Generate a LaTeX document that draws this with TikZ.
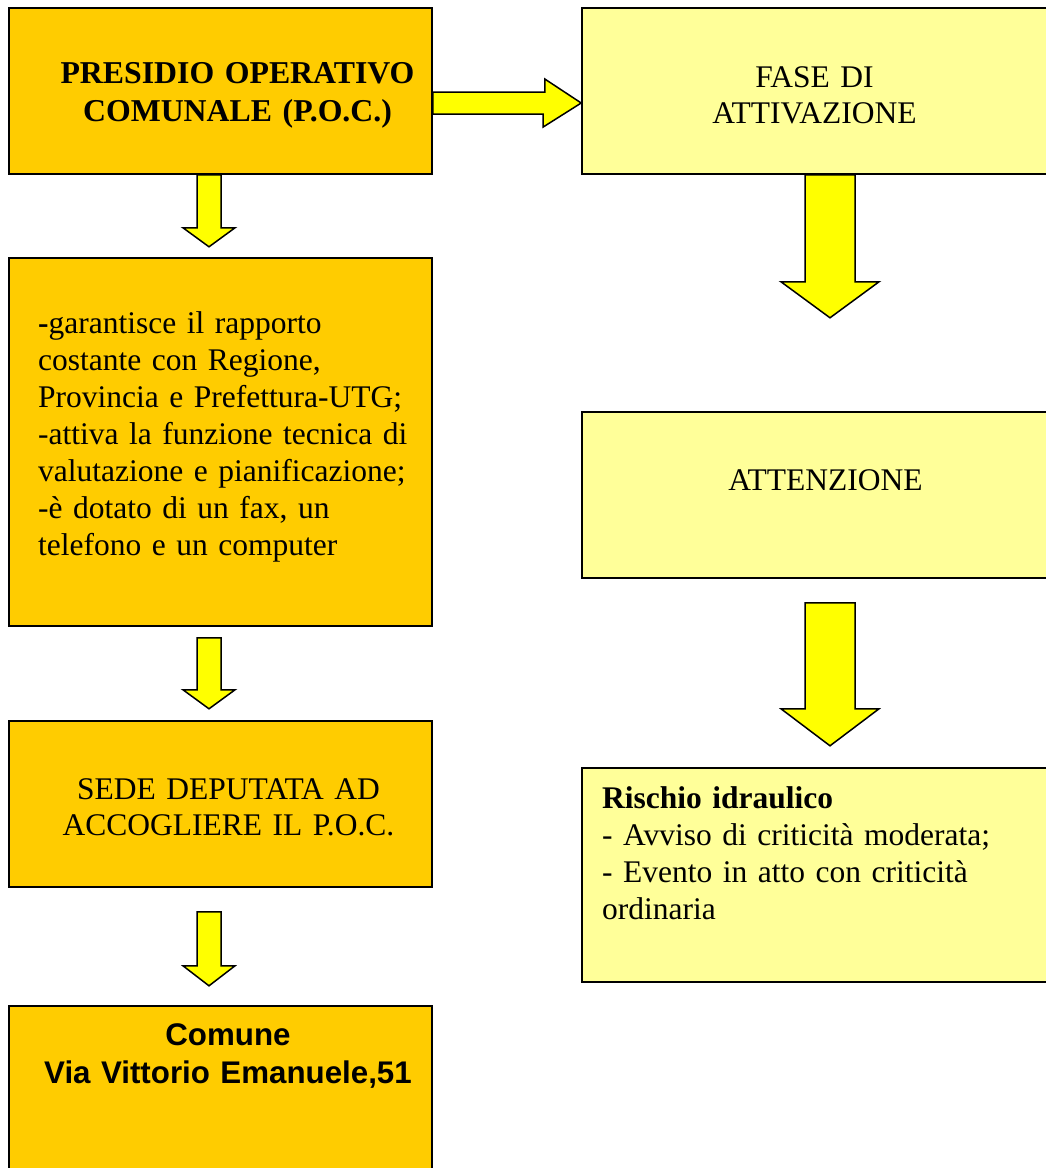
\documentclass[tikz,border=0pt]{standalone}
\usepackage{fontspec}
\setmainfont{Liberation Serif}
\newfontfamily\arialfont{Liberation Sans}
\usetikzlibrary{calc}
\definecolor{pocorange}{HTML}{FFCC00}
\definecolor{phaseyellow}{HTML}{FFFF99}
\definecolor{arrowyellow}{HTML}{FFFF00}
\tikzset{
  leftbox/.style={draw=black, line width=1.6pt, fill=pocorange, inner sep=0pt,
    minimum width=423pt},
  rightbox/.style={draw=black, line width=1.6pt, fill=phaseyellow, inner sep=0pt,
    minimum width=480pt},
  blockarrow/.style={draw=black, line width=1.5pt, fill=arrowyellow, line join=miter},
  txt/.style={inner sep=0pt, font=\fontsize{31.5}{37}\selectfont}
}
\begin{document}
\begin{tikzpicture}[x=1pt, y=-1pt]
  \clip (0,0) rectangle (1046,1168);

  % left column
  \node[leftbox, minimum height=166pt] (poc)     at (220.5,91)   {};
  \node[leftbox, minimum height=368pt] (compiti) at (220.5,442)  {};
  \node[leftbox, minimum height=166pt] (sede)    at (220.5,804)  {};
  \node[leftbox, minimum height=174pt] (comune)  at (220.5,1093) {};

  % right column
  \node[rightbox, minimum height=166pt] (fase)       at (822,91)  {};
  \node[rightbox, minimum height=166pt] (attenzione) at (822,495) {};
  \node[rightbox, minimum height=214pt] (rischio)    at (822,875) {};

  % texts
  \node[txt, font=\fontsize{31.8}{38.5}\selectfont\bfseries, text width=400pt, align=center, anchor=base]
    (poctext) at (237.5,83) {PRESIDIO OPERATIVO\\COMUNALE (P.O.C.)};
  \node[txt, text width=380pt, align=left, anchor=base west] (compititext) at (38,333)
    {\textbf{-}garantisce il rapporto\\costante con Regione,\\Provincia e Prefettura-UTG;\\-attiva la funzione tecnica di\\valutazione e pianificazione;\\-è dotato di un fax, un\\telefono e un computer};
  \node[txt, font=\fontsize{31.5}{36}\selectfont, text width=400pt, align=center, anchor=base]
    (sedetext) at (228.5,799) {SEDE DEPUTATA AD\\ACCOGLIERE IL P.O.C.};
  \node[txt, font=\fontsize{31.3}{38}\selectfont\arialfont\bfseries, text width=410pt, align=center, anchor=base]
    (comunetext) at (228,1045) {Comune\\Via Vittorio Emanuele,51};
  \node[txt, font=\fontsize{31.5}{36}\selectfont, text width=400pt, align=center, anchor=base]
    (fasetext) at (814.5,87) {FASE DI\\ATTIVAZIONE};
  \node[txt, anchor=base] (attenzionetext) at (825.5,490) {ATTENZIONE};
  \node[txt, text width=430pt, align=left, anchor=base west] (rischiotext) at (602,808)
    {\textbf{Rischio idraulico}\\- Avviso di criticità moderata;\\- Evento in atto con criticità\\ordinaria};

  % block arrows
  \draw[blockarrow] ($(poc.east)+(0,1)$) -- ++(112,0) -- ++(0,-13)
    -- ($(fase.west)+(0,12)$) -- ++(-38,24) -- ++(0,-13) -- ($(poc.east)+(0,23)$) -- cycle;
  \draw[blockarrow] ($(poc.south)+(-23.5,0)$) -- ++(0,53) -- ++(-14,0) -- ++(26,19)
    -- ++(26,-19) -- ++(-14,0) -- ++(0,-53) -- cycle;
  \draw[blockarrow] ($(compiti.south)+(-23.5,11)$) -- ++(0,52) -- ++(-14,0) -- ++(26,19)
    -- ++(26,-19) -- ++(-14,0) -- ++(0,-52) -- cycle;
  \draw[blockarrow] ($(sede.south)+(-23.5,24)$) -- ++(0,54) -- ++(-14,0) -- ++(26,20)
    -- ++(26,-20) -- ++(-14,0) -- ++(0,-54) -- cycle;
  \draw[blockarrow] ($(fase.south)+(-17,0)$) -- ++(0,107) -- ++(-24,0) -- ++(49,36)
    -- ++(49,-36) -- ++(-24,0) -- ++(0,-107) -- cycle;
  \draw[blockarrow] ($(attenzione.south)+(-17,24)$) -- ++(0,106) -- ++(-24,0) -- ++(49,37)
    -- ++(49,-37) -- ++(-24,0) -- ++(0,-106) -- cycle;
\end{tikzpicture}
\end{document}
